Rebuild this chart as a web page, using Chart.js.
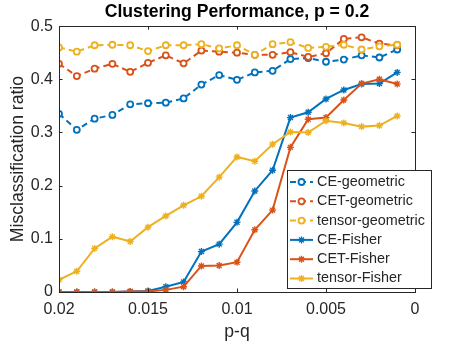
<!DOCTYPE html>
<html>
<head>
<meta charset="utf-8">
<script src="https://cdn.jsdelivr.net/npm/chart.js@4/dist/chart.umd.min.js"></script>
<style>
  body { margin: 0; background: #fff; }
  canvas { display: block; }
</style>
</head>
<body>
<canvas id="grafico" width="458" height="343"></canvas>
<script>
// p-q values (x axis runs from 0.02 down to 0)
let pq = [0.020, 0.019, 0.018, 0.017, 0.016, 0.015, 0.014, 0.013, 0.012, 0.011,
          0.010, 0.009, 0.008, 0.007, 0.006, 0.005, 0.004, 0.003, 0.002, 0.001];

let nomiSerie = ["CE-geometric", "CET-geometric", "tensor-geometric",
                 "CE-Fisher", "CET-Fisher", "tensor-Fisher"];

let ceGeo  = [0.335, 0.305, 0.326, 0.333, 0.353, 0.355, 0.356, 0.364, 0.390, 0.408,
              0.399, 0.413, 0.416, 0.438, 0.440, 0.433, 0.437, 0.445, 0.441, 0.456];
let cetGeo = [0.429, 0.406, 0.420, 0.429, 0.414, 0.431, 0.445, 0.430, 0.454, 0.452,
              0.450, 0.446, 0.446, 0.451, 0.442, 0.449, 0.476, 0.479, 0.467, 0.464];
let tenGeo = [0.460, 0.452, 0.464, 0.465, 0.464, 0.453, 0.464, 0.464, 0.466, 0.458,
              0.464, 0.446, 0.466, 0.470, 0.459, 0.461, 0.465, 0.456, 0.462, 0.465];
let ceFis  = [0, 0, 0, 0, 0.001, 0.002, 0.010, 0.019, 0.076, 0.090,
              0.131, 0.190, 0.229, 0.328, 0.338, 0.363, 0.380, 0.391, 0.392, 0.413];
let cetFis = [0, 0, 0, 0, 0.001, 0.001, 0.004, 0.010, 0.049, 0.050,
              0.056, 0.117, 0.154, 0.272, 0.325, 0.328, 0.361, 0.392, 0.400, 0.391];
let tenFis = [0.023, 0.039, 0.082, 0.104, 0.095, 0.122, 0.143, 0.163, 0.180, 0.216,
              0.254, 0.246, 0.278, 0.301, 0.300, 0.322, 0.318, 0.311, 0.313, 0.331];

let xTicks = [0.02, 0.015, 0.01, 0.005, 0];
let yTicks = [0, 0.1, 0.2, 0.3, 0.4, 0.5];

let colori = ["#0072BD", "#D95319", "#EDB120"];
let valori = [ceGeo, cetGeo, tenGeo, ceFis, cetFis, tenFis];

function creaSerie(i){
    let geo = i < 3;
    let col = colori[i % 3];
    return {
        label: nomiSerie[i],
        data: valori[i].map((v, k) => ({x: pq[k], y: v})),
        borderColor: col,
        backgroundColor: geo ? "#fff" : col,
        borderWidth: 2,
        borderDash: geo ? [6, 4] : [],
        pointStyle: geo ? "circle" : "star",
        pointRadius: geo ? 3 : 3.5,
        pointBorderWidth: geo ? 1.8 : 1.4,
        pointBorderColor: col,
        pointBackgroundColor: geo ? "#fff" : col,
        tension: 0,
        order: 6 - i
    };
}

// box around the plot + ticks pointing inward on all four sides
let boxPlugin = {
    id: "box",
    afterDatasetsDraw(chart){
        let ctx = chart.ctx;
        let a = chart.chartArea;
        let sx = chart.scales.x, sy = chart.scales.y;
        ctx.save();
        ctx.strokeStyle = "#262626";
        ctx.lineWidth = 1;
        ctx.setLineDash([]);
        ctx.strokeRect(Math.round(a.left) + 0.5, Math.round(a.top) + 0.5,
                       Math.round(a.right - a.left), Math.round(a.bottom - a.top));
        let tl = 3.5;
        ctx.beginPath();
        for(let v of xTicks){
            let px = Math.round(sx.getPixelForValue(v)) + 0.5;
            ctx.moveTo(px, a.bottom); ctx.lineTo(px, a.bottom - tl);
            ctx.moveTo(px, a.top); ctx.lineTo(px, a.top + tl);
        }
        for(let v of yTicks){
            let py = Math.round(sy.getPixelForValue(v)) + 0.5;
            ctx.moveTo(a.left, py); ctx.lineTo(a.left + tl, py);
            ctx.moveTo(a.right, py); ctx.lineTo(a.right - tl, py);
        }
        ctx.stroke();
        ctx.restore();
    }
};

// legend drawn inside the plot like the matlab one
let legendaPlugin = {
    id: "legenda",
    afterDraw(chart){
        let ctx = chart.ctx;
        let x0 = 287, y0 = 170, w = 144, h = 118;
        ctx.save();
        ctx.fillStyle = "#fff";
        ctx.fillRect(x0, y0, w, h);
        ctx.strokeStyle = "#262626";
        ctx.lineWidth = 1;
        ctx.strokeRect(x0 + 0.5, y0 + 0.5, w, h);
        ctx.font = "14.4px 'Liberation Sans', Arial, sans-serif";
        ctx.textBaseline = "middle";
        chart.data.datasets.forEach((ds, i) => {
            let y = y0 + 12 + i * 19.3;
            ctx.strokeStyle = ds.borderColor;
            ctx.lineWidth = 2;
            ctx.setLineDash(ds.borderDash);
            ctx.beginPath();
            ctx.moveTo(290, y); ctx.lineTo(313, y);
            ctx.stroke();
            ctx.setLineDash([]);
            ctx.fillStyle = ds.pointBackgroundColor;
            ctx.strokeStyle = ds.pointBorderColor;
            ctx.lineWidth = ds.pointBorderWidth;
            Chart.helpers.drawPoint(ctx, {
                pointStyle: ds.pointStyle,
                radius: ds.pointRadius,
                borderWidth: ds.pointBorderWidth,
                rotation: 0
            }, 301.5, y);
            ctx.fillStyle = "#262626";
            ctx.fillText(ds.label, 317, y);
        });
        ctx.restore();
    }
};

Chart.defaults.font.family = "'Liberation Sans', Arial, sans-serif";
Chart.defaults.color = "#262626";

let grafico = new Chart(document.getElementById("grafico"), {
    type: "line",
    data: { datasets: [0, 1, 2, 3, 4, 5].map(creaSerie) },
    options: {
        responsive: false,
        animation: false,
        layout: { padding: { left: 0, right: 43, top: 0, bottom: 0 } },
        plugins: {
            legend: { display: false },
            tooltip: { enabled: false },
            title: {
                display: true,
                text: "Clustering Performance, p = 0.2",
                color: "#000",
                fullSize: false,
                font: { size: 17.6, weight: "bold" },
                padding: { top: 2, bottom: 3 }
            }
        },
        scales: {
            x: {
                type: "linear",
                reverse: true,
                min: 0,
                max: 0.02,
                afterBuildTicks: s => { s.ticks = xTicks.map(v => ({value: v})); },
                afterFit: s => { s.height = 51; },
                grid: { display: false, drawTicks: false },
                border: { display: false },
                ticks: {
                    font: { size: 16 },
                    padding: 8,
                    maxRotation: 0,
                    callback: v => String(parseFloat(Number(v).toFixed(3)))
                },
                title: {
                    display: true,
                    text: "p-q",
                    font: { size: 17.6 },
                    padding: { top: 0, bottom: 0 }
                }
            },
            y: {
                min: 0,
                max: 0.5,
                afterBuildTicks: s => { s.ticks = yTicks.map(v => ({value: v})); },
                afterFit: s => { s.width = 59; },
                grid: { display: false, drawTicks: false },
                border: { display: false },
                ticks: {
                    font: { size: 16 },
                    padding: 6,
                    callback: v => v === 0 ? "0" : Number(v).toFixed(1)
                },
                title: {
                    display: true,
                    text: "Misclassification ratio",
                    font: { size: 17.6 },
                    padding: { top: 8, bottom: 0 }
                }
            }
        }
    },
    plugins: [boxPlugin, legendaPlugin]
});
</script>
</body>
</html>
